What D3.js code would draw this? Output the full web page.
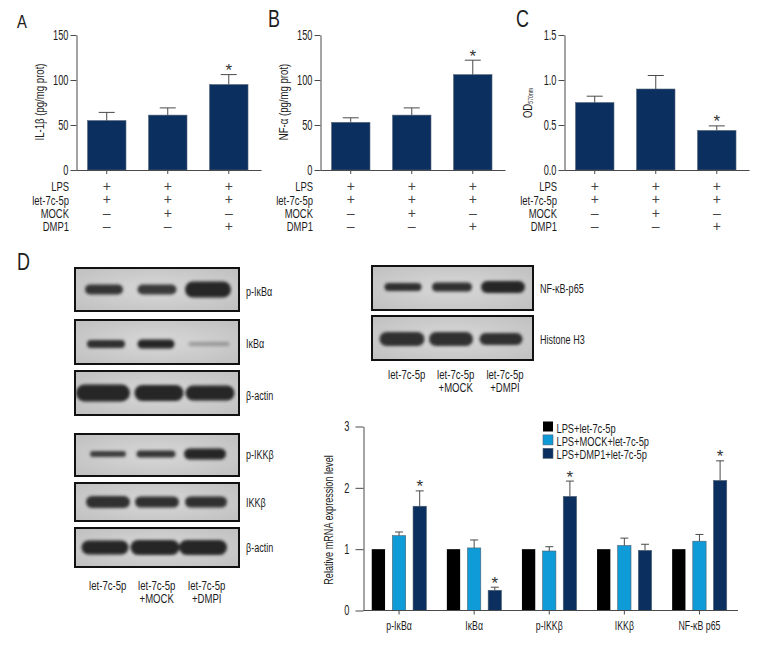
<!DOCTYPE html>
<html><head><meta charset="utf-8">
<script src="https://cdn.jsdelivr.net/npm/d3@7"></script>
<style>html,body{margin:0;background:#fff}svg{display:block}</style></head>
<body><svg id="c" width="780" height="660"></svg>
<script>
// ---------- data ----------
const matrixRows = ["LPS","let-7c-5p","MOCK","DMP1"];
const matrixSigns = [["+","+","+"],["+","+","+"],["–","+","–"],["–","–","+"]];
const aValues = [55,61,95];
const aUpper  = [64,69,106];
const bValues = [53,61,106];
const bUpper  = [58,69,122];
const cValues = [0.75,0.90,0.44];
const cUpper  = [0.82,1.05,0.49];
const groupNames = ["p-IκBα","IκBα","p-IKKβ","IKKβ","NF-κB p65"];
const seriesNames = ["LPS+let-7c-5p","LPS+MOCK+let-7c-5p","LPS+DMP1+let-7c-5p"];
const seriesCtrl = [1,1,1,1,1];
const seriesMock = [1.22,1.02,0.97,1.06,1.13];
const seriesDmp  = [1.70,0.33,1.86,0.98,2.12];
const upperMock  = [1.28,1.15,1.04,1.18,1.24];
const upperDmp   = [1.95,0.38,2.11,1.08,2.44];
const starredDmp = [1,1,1,0,1];
const lanesLeft  = ["let-7c-5p","let-7c-5p\n+MOCK","let-7c-5p\n+DMPI"];
// blot bands: [lane offset, band width, band thickness, density]
const bandsPIkba  = [[-1,38,10,.9],[1,39,10,.88],[1,46,16,1]];
const bandsIkba   = [[1,38,8,.95],[0,37,9,1],[2,41,4,.3]];
const bandsActin1 = [[-2,54,17,1],[3,49,16,1],[3,49,15,1]];
const bandsPIkkb  = [[3,36,6,.85],[0,39,7,.9],[-2,42,11,1]];
const bandsIkkb   = [[3,44,12,.95],[1,44,11,.95],[-1,42,11,.95]];
const bandsActin2 = [[0,47,14,1],[-1,49,15,1],[-4,48,15,1]];
const bandsP65    = [[-1,37,8,.95],[-1,40,9,.95],[1,44,12,1]];
const bandsH3     = [[-2,45,14,.95],[-2,44,14,.95],[-1,43,12,.95]];

// ---------- helpers ----------
const svg = d3.select("#c");
const FONT = '"Liberation Sans Narrow","Liberation Sans",sans-serif';
const NAVY="#0b2f5e", BLUE="#0f9ad8", AXIS="#4a4a4a", TXT="#1c1c1c";
const defs = svg.append("defs");
[1.6].forEach((s,i)=>defs.append("filter").attr("id","b"+i)
  .attr("x","-30%").attr("y","-80%").attr("width","160%").attr("height","260%")
  .append("feGaussianBlur").attr("stdDeviation",s));
const vg = defs.append("radialGradient").attr("id","vig").attr("r","75%");
vg.append("stop").attr("offset","0%").attr("stop-color","#d8d8d8");
vg.append("stop").attr("offset","100%").attr("stop-color","#bebebe");

function txt(x,y,s,o={}){
  const size=o.size||13.5, sx=o.sx||.7, rot=o.rot||0;
  return svg.append("text")
    .attr("transform",`translate(${x},${y}) rotate(${rot}) scale(${sx},1)`)
    .attr("text-anchor",o.anchor||"start")
    .attr("dominant-baseline","central")
    .attr("font-family",FONT).attr("font-size",size)
    .attr("fill",o.fill||TXT).text(s);
}
function styleAxis(g){
  g.selectAll("path,line").attr("stroke",AXIS).attr("stroke-width",1);
}

// ---------- small bar panels ----------
function panel(o){
  const x=d3.scaleBand().domain(d3.range(3)).range([o.x0,o.x0+182.5]).paddingInner(.369).paddingOuter(.18);
  const y=d3.scaleLinear().domain([0,o.max]).range([170,35]);
  const g=svg.append("g");
  const bw=x.bandwidth();
  g.selectAll("rect").data(o.values).join("rect")
    .attr("x",(d,i)=>x(i)).attr("width",bw).attr("y",d=>y(d)).attr("height",d=>170-y(d))
    .attr("fill",NAVY).attr("stroke","#5b6a7c").attr("stroke-width",.6);
  g.selectAll("line.e").data(o.values).join("line").attr("class","e")
    .attr("x1",(d,i)=>x(i)+bw/2).attr("x2",(d,i)=>x(i)+bw/2)
    .attr("y1",d=>y(d)).attr("y2",(d,i)=>y(o.upper[i])).attr("stroke",AXIS);
  g.selectAll("line.c").data(o.upper).join("line").attr("class","c")
    .attr("x1",(d,i)=>x(i)+bw/2-8).attr("x2",(d,i)=>x(i)+bw/2+8)
    .attr("y1",d=>y(d)).attr("y2",d=>y(d)).attr("stroke",AXIS);
  const ya=svg.append("g").attr("transform",`translate(${o.x0},0)`)
    .call(d3.axisLeft(y).tickValues(o.ticks).tickFormat(o.fmt).tickSize(6).tickSizeOuter(0));
  styleAxis(ya);
  ya.selectAll("text").remove();
  o.ticks.forEach(t=>txt(o.x0-8,y(t),o.fmt(t),{anchor:"end",size:14,sx:.66}));
  const xa=svg.append("g").attr("transform","translate(0,170)")
    .call(d3.axisBottom(x).tickFormat("").tickSize(4).tickSizeOuter(0));
  styleAxis(xa);
  xa.select("path").attr("d",`M${o.x0},0.5H${o.x0+185}`);
  txt(x(2)+bw/2,y(o.upper[2])-4,"*",{anchor:"middle",size:17,sx:1,fill:"#333"});
  matrixRows.forEach((r,ri)=>{
    const yy=186+ri*13.3;
    txt(o.x0-7.5,yy,r,{anchor:"end",sx:.7});
    matrixSigns[ri].forEach((s,i)=>txt(x(i)+bw/2,yy,s,{anchor:"middle",size:14,sx:1,fill:"#444"}));
  });
  txt(o.lx,o.ly,o.letter,{size:o.ls,sx:.78});
}
panel({x0:76.5,max:150,values:aValues,upper:aUpper,ticks:[0,50,100,150],fmt:d3.format("d"),lx:17,ly:21.5,ls:19,letter:"A"});
panel({x0:320.5,max:150,values:bValues,upper:bUpper,ticks:[0,50,100,150],fmt:d3.format("d"),lx:268,ly:18.5,ls:23,letter:"B"});
panel({x0:564.5,max:1.5,values:cValues,upper:cUpper,ticks:[0,.5,1,1.5],fmt:d3.format(".1f"),lx:516,ly:18.5,ls:23,letter:"C"});
txt(39,102,"IL-1β (pg/mg prot)",{anchor:"middle",rot:-90,size:13,sx:.74});
txt(283,102,"NF-α  (pg/mg prot)",{anchor:"middle",rot:-90,size:13,sx:.74});
const od=txt(527,103,"OD",{anchor:"middle",rot:-90,size:13,sx:.74});
od.append("tspan").attr("font-size",7).attr("dy",3).text("570nm");
txt(17,262,"D",{size:23,sx:.78});

// ---------- blots ----------
function blot(o){
  const w=o.x1-o.x0,h=o.y1-o.y0;
  svg.append("rect").attr("x",o.x0+1).attr("y",o.y0+1).attr("width",w-2).attr("height",h-2)
    .attr("fill","url(#vig)").attr("stroke","#111").attr("stroke-width",2);
  const lane=d3.scalePoint().domain(d3.range(3)).range(o.lanes);
  const yc=(o.y0+o.y1)/2+(o.yo||0);
  svg.append("g").attr("filter","url(#b0)").selectAll("rect").data(o.bands).join("rect")
    .attr("x",(d,i)=>lane(i)+d[0]-d[1]/2).attr("width",d=>d[1])
    .attr("y",d=>yc-d[2]/2).attr("height",d=>d[2])
    .attr("rx",d=>d[2]/2)
    .attr("fill","#262626").attr("opacity",d=>d[3]);
  txt(o.x1+6,yc+(o.lo||0),o.label,{sx:.67});
}
const L=[105,207],R=[404,502];
blot({x0:74,x1:240,y0:267,y1:312,lanes:L,bands:bandsPIkba,label:"p-IκBα",lo:1.5});
blot({x0:74,x1:240,y0:319,y1:365,lanes:L,bands:bandsIkba,label:"IκBα",yo:2,lo:-1});
blot({x0:74,x1:240,y0:370,y1:416,lanes:L,bands:bandsActin1,label:"β-actin",lo:2});
blot({x0:74,x1:240,y0:433,y1:477,lanes:L,bands:bandsPIkkb,label:"p-IKKβ",yo:-1});
blot({x0:74,x1:240,y0:482,y1:522,lanes:L,bands:bandsIkkb,label:"IKKβ"});
blot({x0:74,x1:240,y0:527,y1:568,lanes:L,bands:bandsActin2,label:"β-actin"});
blot({x0:371,x1:534,y0:265,y1:311,lanes:R,bands:bandsP65,label:"NF-κB-p65",yo:-1,lo:1});
blot({x0:371,x1:534,y0:315,y1:361,lanes:R,bands:bandsH3,label:"Histone H3",yo:1});
function captions(xs,y0){
  lanesLeft.forEach((s,i)=>s.split("\n").forEach((t,j)=>txt(xs[i],y0+j*13.2,t,{anchor:"middle",sx:.71})));
}
captions([107.7,156.7,206.7],585);
captions([406.7,455.7,505],374);

// ---------- grouped bars ----------
const gx=d3.scaleBand().domain(groupNames).range([361.5,737]);
const ix=d3.scaleBand().domain([0,1,2]).range([-27.3,27.3]).paddingInner(.356);
const gy=d3.scaleLinear().domain([0,3]).range([610.5,426.5]);
const cols=["#000",BLUE,NAVY];
const series=[seriesCtrl,seriesMock,seriesDmp];
const uppers=[null,upperMock,upperDmp];
series.forEach((vals,si)=>{
  const px=i=>gx(groupNames[i])+gx.bandwidth()/2+ix(si);
  const g=svg.append("g");
  g.selectAll("rect").data(vals).join("rect")
    .attr("x",(d,i)=>px(i)).attr("width",ix.bandwidth())
    .attr("y",d=>gy(d)).attr("height",d=>610.5-gy(d))
    .attr("fill",cols[si]).attr("stroke",si?"#4d5f70":"none").attr("stroke-width",.6);
  if(uppers[si]){
    const c=i=>px(i)+ix.bandwidth()/2;
    g.selectAll("line.e").data(uppers[si]).join("line").attr("class","e")
      .attr("x1",(d,i)=>c(i)).attr("x2",(d,i)=>c(i))
      .attr("y1",(d,i)=>gy(vals[i])).attr("y2",d=>gy(d)).attr("stroke",AXIS);
    g.selectAll("line.c").data(uppers[si]).join("line").attr("class","c")
      .attr("x1",(d,i)=>c(i)-4).attr("x2",(d,i)=>c(i)+4)
      .attr("y1",d=>gy(d)).attr("y2",d=>gy(d)).attr("stroke",AXIS);
  }
  if(si===2) upperDmp.forEach((u,i)=>{ if(starredDmp[i]) txt(px(i)+ix.bandwidth()/2,gy(u)-4,"*",{anchor:"middle",size:17,sx:1,fill:"#333"}); });
});
const gya=svg.append("g").attr("transform","translate(363.5,0)")
  .call(d3.axisLeft(gy).tickValues([0,1,2,3]).tickSize(8).tickSizeOuter(0));
styleAxis(gya); gya.selectAll("text").remove();
[0,1,2,3].forEach(t=>txt(349.5,gy(t),t,{anchor:"end",size:14,sx:.66}));
const gxa=svg.append("g").attr("transform","translate(0,610.5)")
  .call(d3.axisBottom(gx).tickFormat("").tickSize(4).tickSizeOuter(0));
styleAxis(gxa);
gxa.select("path").attr("d","M363.5,0H738");
groupNames.forEach(n=>txt(gx(n)+gx.bandwidth()/2,625,n,{anchor:"middle",sx:.65}));
txt(328,520,"Relative mRNA expression level",{anchor:"middle",rot:-90,size:13,sx:.7});
seriesNames.forEach((n,i)=>{
  svg.append("rect").attr("x",543).attr("y",421.5+i*13.4).attr("width",10).attr("height",10)
    .attr("fill",cols[i]).attr("stroke",i?"#4d5f70":"none").attr("stroke-width",.6);
  txt(556.5,428+i*13.4,n,{sx:.69});
});
</script></body></html>
